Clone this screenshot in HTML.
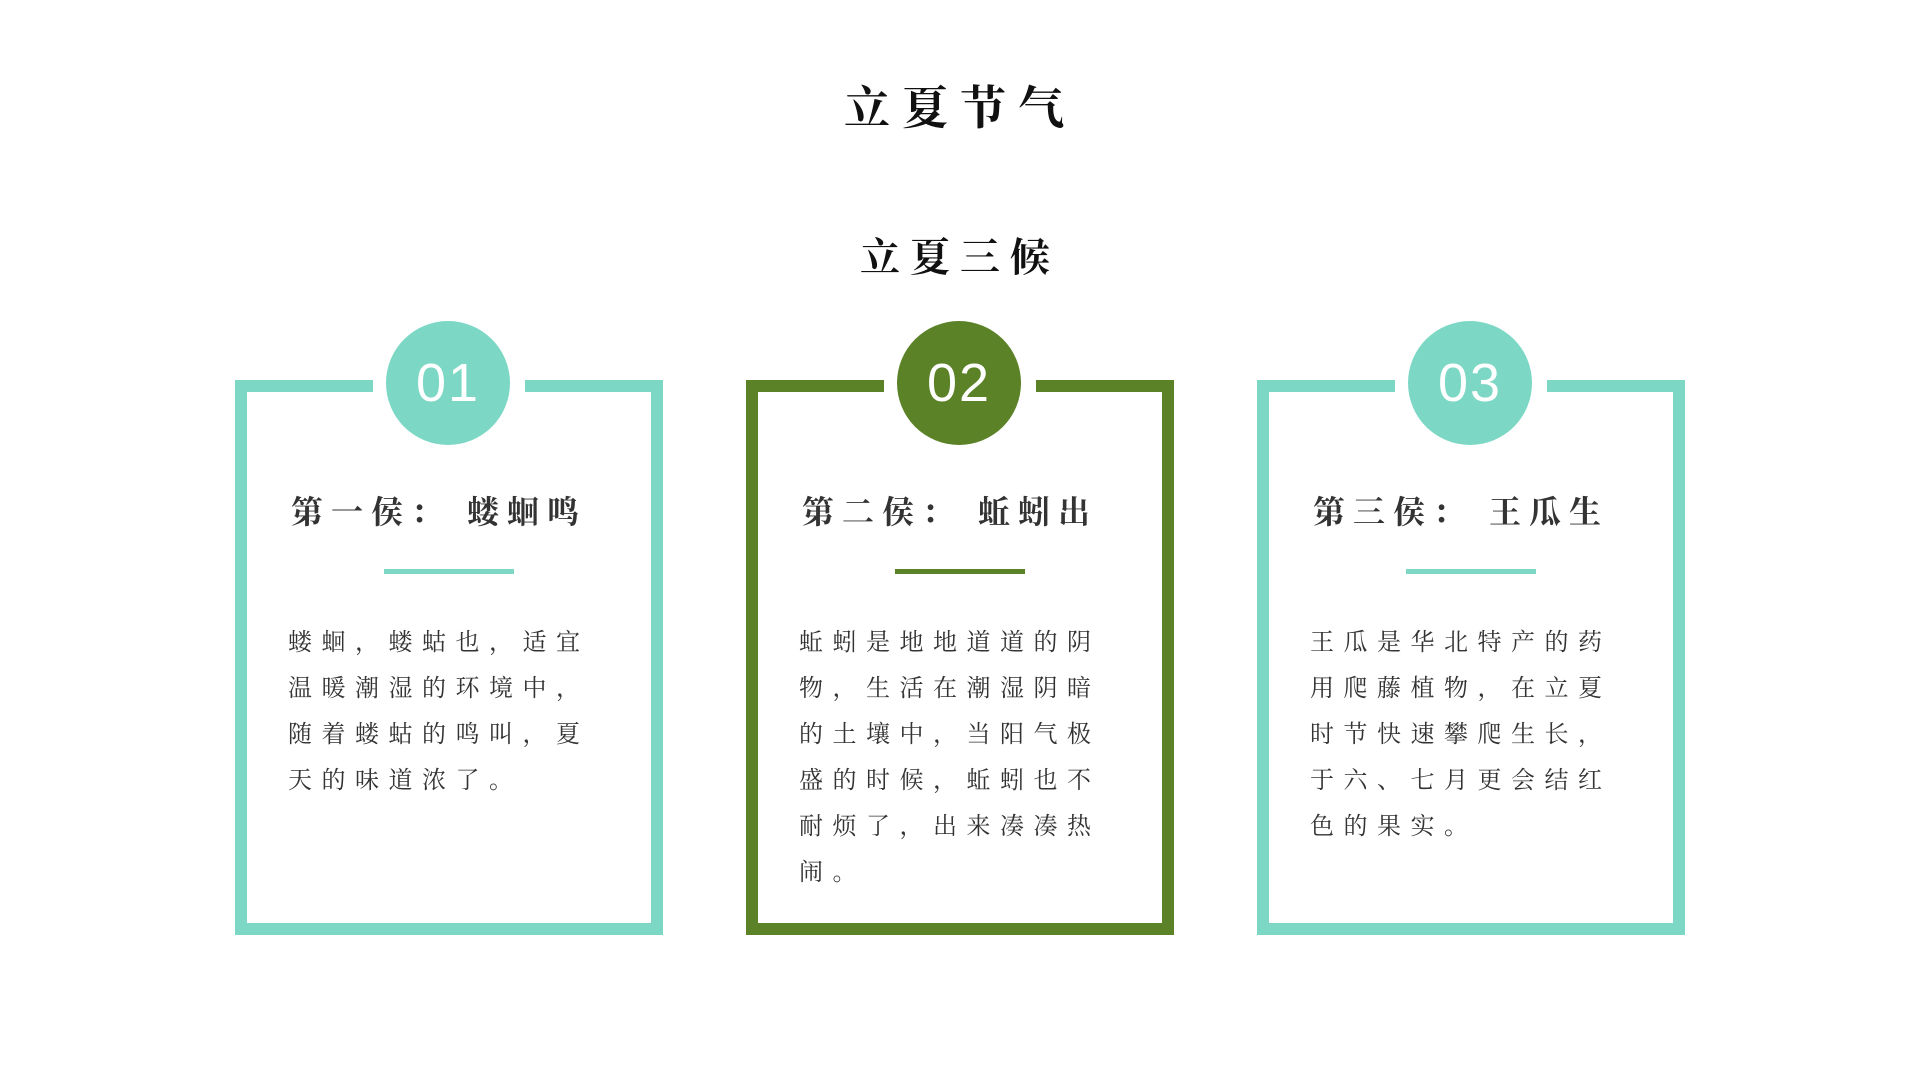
<!DOCTYPE html>
<html><head><meta charset="utf-8"><style>
html,body{margin:0;padding:0;background:#fff;}
body{width:1920px;height:1080px;position:relative;overflow:hidden;font-family:"Liberation Serif","Noto Serif CJK SC",serif;}
.t{position:absolute;left:0;width:1920px;text-align:center;color:#111;font-weight:700;}
.box{position:absolute;top:380px;width:428px;height:555px;box-sizing:border-box;border:12px solid;}
.gap{position:absolute;top:-14px;left:126px;width:152px;height:18px;background:#fff;}
.circ{position:absolute;top:-71px;left:139px;width:124px;height:124px;border-radius:50%;color:#fff;font-family:"Liberation Sans","DejaVu Sans",sans-serif;font-size:54px;line-height:124px;text-align:center;letter-spacing:2px;}
.h{position:absolute;top:95px;left:44px;width:380px;text-align:left;font-size:32px;font-weight:700;color:#333;letter-spacing:8px;white-space:nowrap;}
.d{position:absolute;top:177px;left:137px;width:130px;height:5px;}
.p{position:absolute;top:228px;left:41px;width:360px;font-size:24px;line-height:46px;color:#333;letter-spacing:9.5px;white-space:nowrap;}
.teal{border-color:#7cd8c4;}
.teal .circ,.teal .d{background:#7cd8c4;}
.green{border-color:#5b8227;}
.green .circ,.green .d{background:#5b8227;}
</style></head><body>
<div class="t" style="top:72px;font-size:46px;letter-spacing:12px;">立夏节气</div>
<div class="t" style="top:226px;font-size:40px;letter-spacing:10px;">立夏三候</div>

<div class="box teal" style="left:235px;">
<div class="gap"></div><div class="circ">01</div>
<div class="h">第一侯： 蝼蛔鸣</div><div class="d"></div>
<div class="p">蝼蛔，蝼蛄也，适宜<br>温暖潮湿的环境中，<br>随着蝼蛄的鸣叫，夏<br>天的味道浓了。</div>
</div>

<div class="box green" style="left:746px;">
<div class="gap"></div><div class="circ">02</div>
<div class="h">第二侯： 蚯蚓出</div><div class="d"></div>
<div class="p">蚯蚓是地地道道的阴<br>物，生活在潮湿阴暗<br>的土壤中，当阳气极<br>盛的时候，蚯蚓也不<br>耐烦了，出来凑凑热<br>闹。</div>
</div>

<div class="box teal" style="left:1257px;">
<div class="gap"></div><div class="circ">03</div>
<div class="h">第三侯： 王瓜生</div><div class="d"></div>
<div class="p">王瓜是华北特产的药<br>用爬藤植物，在立夏<br>时节快速攀爬生长，<br>于六、七月更会结红<br>色的果实。</div>
</div>
</body></html>
